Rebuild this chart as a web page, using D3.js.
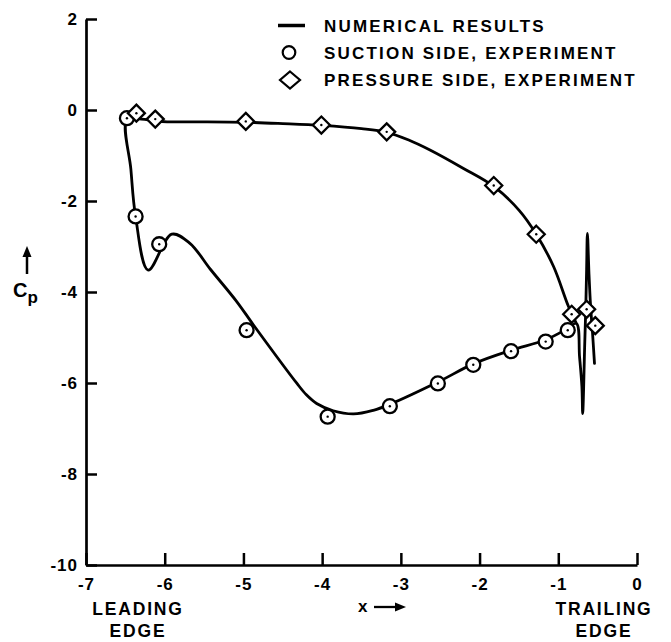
<!DOCTYPE html>
<html>
<head>
<meta charset="utf-8">
<script src="https://cdn.jsdelivr.net/npm/d3@7"></script>
<style>
  html, body { margin: 0; padding: 0; background: #fff; }
  svg { display: block; }
  text { font-family: "Liberation Sans", Arial, sans-serif; font-weight: bold; fill: #000; }
</style>
</head>
<body>
<svg id="chart" width="671" height="642"></svg>
<script>
// ---- data ----
const xTicks = [-7, -6, -5, -4, -3, -2, -1, 0];
const yTicks = [2, 0, -2, -4, -6, -8, -10];

// suction side, experiment (circles)
const suctionX  = [-6.48, -6.37, -6.07, -4.96, -3.93, -3.14, -2.53, -2.08, -1.60, -1.16, -0.88];
const suctionCp = [-0.18, -2.34, -2.95, -4.84, -6.74, -6.51, -6.01, -5.60, -5.30, -5.09, -4.84];

// pressure side, experiment (diamonds)
const pressureX  = [-6.36, -6.12, -4.97, -4.01, -3.18, -1.82, -1.28, -0.83, -0.64, -0.53];
const pressureCp = [-0.07, -0.20, -0.25, -0.33, -0.48, -1.66, -2.73, -4.49, -4.38, -4.74];

// numerical results: one traced path (trailing-edge spike, suction side, leading edge, pressure side)
const numericalX = [
  -0.54, -0.565, -0.59, -0.61, -0.63, -0.64, -0.65, -0.665, -0.69, -0.70, -0.73, -0.77,
  -0.88, -1.16, -1.60, -2.08, -2.53, -3.14, -3.35, -3.60, -3.86, -4.07, -4.20, -4.32,
  -4.87, -5.09, -5.42, -5.68, -5.91, -6.21, -6.37, -6.43, -6.48,
  -6.30, -6.12, -5.97, -5.50, -4.97, -4.50, -4.01, -3.50, -3.18, -2.90, -2.63, -2.21,
  -1.82, -1.50, -1.28, -1.06, -0.87, -0.77
];
const numericalCp = [
  -5.57, -4.90, -4.30, -3.60, -2.71, -3.50, -4.30, -5.20, -6.67, -6.08, -5.42, -4.69,
  -4.80, -5.05, -5.28, -5.58, -5.98, -6.47, -6.60, -6.68, -6.61, -6.45, -6.26, -6.01,
  -4.73, -4.20, -3.50, -2.93, -2.73, -3.52, -2.34, -1.30, -0.22,
  -0.20, -0.24, -0.26, -0.26, -0.27, -0.30, -0.34, -0.41, -0.49, -0.66, -0.88, -1.28,
  -1.68, -2.20, -2.73, -3.44, -4.32, -4.69
];

const legendItems = ["NUMERICAL RESULTS", "SUCTION SIDE, EXPERIMENT", "PRESSURE SIDE, EXPERIMENT"];

// ---- drawing ----
const svg = d3.select("#chart");
svg.append("rect").attr("width", 671).attr("height", 642).attr("fill", "#fff");

const x = d3.scaleLinear().domain([-7, 0]).range([86, 637]);
const y = d3.scaleLinear().domain([-10, 2]).range([565, 19]);

const fmt = d => String(d);

// Y axis
const yAxis = svg.append("g")
  .attr("transform", `translate(${x(-7)},0)`)
  .call(d3.axisLeft(y).tickValues(yTicks).tickFormat(fmt)
        .tickSizeInner(-11).tickSizeOuter(0).tickPadding(8));
// X axis
const xAxis = svg.append("g")
  .attr("transform", `translate(0,${y(-10)})`)
  .call(d3.axisBottom(x).tickValues(xTicks).tickFormat(fmt)
        .tickSizeInner(-12).tickSizeOuter(0).tickPadding(13));

[yAxis, xAxis].forEach(g => {
  g.select(".domain").attr("stroke", "#000").attr("stroke-width", 2.7);
  g.selectAll(".tick line").attr("stroke", "#000").attr("stroke-width", 2.5);
  g.selectAll(".tick text")
    .style("font-family", '"Liberation Sans", Arial, sans-serif')
    .style("font-weight", "bold")
    .style("font-size", "17px")
    .style("letter-spacing", "1px")
    .attr("fill", "#000");
});

// numerical line
const line = d3.line()
  .x(i => x(numericalX[i]))
  .y(i => y(numericalCp[i]))
  .curve(d3.curveCatmullRom.alpha(0.5));
svg.append("path")
  .attr("d", line(d3.range(numericalX.length)))
  .attr("fill", "none")
  .attr("stroke", "#000")
  .attr("stroke-width", 2.8)
  .attr("stroke-linejoin", "round")
  .attr("stroke-linecap", "round");

// circles (suction)
const cg = svg.append("g");
d3.range(suctionX.length).forEach(i => {
  const cx = x(suctionX[i]), cy = y(suctionCp[i]);
  cg.append("circle").attr("cx", cx).attr("cy", cy).attr("r", 7)
    .attr("fill", "#fff").attr("stroke", "#000").attr("stroke-width", 2.3);
  cg.append("circle").attr("cx", cx).attr("cy", cy).attr("r", 1.2).attr("fill", "#000");
});

// diamonds (pressure)
const dg = svg.append("g");
const dia = (cx, cy, hw, hh) => `M${cx},${cy - hh}L${cx + hw},${cy}L${cx},${cy + hh}L${cx - hw},${cy}Z`;
d3.range(pressureX.length).forEach(i => {
  const cx = x(pressureX[i]), cy = y(pressureCp[i]);
  dg.append("path").attr("d", dia(cx, cy, 8.5, 8.5))
    .attr("fill", "#fff").attr("stroke", "#000").attr("stroke-width", 2.3)
    .attr("stroke-linejoin", "miter");
  dg.append("circle").attr("cx", cx).attr("cy", cy).attr("r", 1.2).attr("fill", "#000");
});

// legend
const lg = svg.append("g");
const legY = [25.5, 52.5, 80];
lg.append("line").attr("x1", 278).attr("x2", 305).attr("y1", legY[0]).attr("y2", legY[0])
  .attr("stroke", "#000").attr("stroke-width", 3.5);
lg.append("circle").attr("cx", 289).attr("cy", legY[1]).attr("r", 6.3)
  .attr("fill", "#fff").attr("stroke", "#000").attr("stroke-width", 2.2);
lg.append("path").attr("d", dia(290, legY[2], 10, 8.5))
  .attr("fill", "#fff").attr("stroke", "#000").attr("stroke-width", 2.2);
legendItems.forEach((t, i) => {
  lg.append("text").attr("x", 324).attr("y", legY[i]).attr("dy", "0.36em")
    .style("font-size", "17px").style("letter-spacing", "2.2px").text(t);
});

// y label: arrow + Cp
svg.append("line").attr("x1", 27).attr("x2", 27).attr("y1", 254).attr("y2", 274)
  .attr("stroke", "#000").attr("stroke-width", 2.5);
svg.append("path").attr("d", "M27,246L31.5,257L22.5,257Z").attr("fill", "#000");
const cp = svg.append("text").attr("x", 13).attr("y", 297).style("font-size", "20px");
cp.append("tspan").text("C");
cp.append("tspan").attr("dy", 6).style("font-size", "17px").text("p");

// x label: x + arrow
svg.append("text").attr("x", 358).attr("y", 611.5).style("font-size", "17px").text("x");
svg.append("line").attr("x1", 374).attr("x2", 397).attr("y1", 607).attr("y2", 607)
  .attr("stroke", "#000").attr("stroke-width", 2.3);
svg.append("path").attr("d", "M406,607L395,602.5L395,611.5Z").attr("fill", "#000");

// edge labels
const edgeLabel = (cx, lines) => {
  lines.forEach((t, i) => {
    svg.append("text").attr("x", cx).attr("y", 615 + i * 22)
      .attr("text-anchor", "middle")
      .style("font-size", "17.5px").style("letter-spacing", "1.8px").text(t);
  });
};
edgeLabel(138, ["LEADING", "EDGE"]);
edgeLabel(604, ["TRAILING", "EDGE"]);
</script>
</body>
</html>
